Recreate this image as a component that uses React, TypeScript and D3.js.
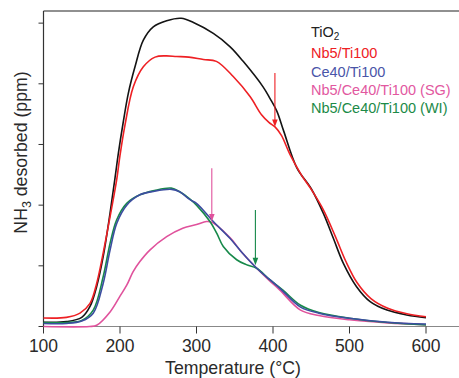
import React from "react";
import * as d3 from "d3";

const W = 459;
const H = 378;

const xTicks = [100, 200, 300, 400, 500, 600];
const yTicks = [0, 1, 2, 3, 4, 5];

const seriesNames = ["TiO2", "Nb5/Ti100", "Ce40/Ti100", "Nb5/Ce40/Ti100 (SG)", "Nb5/Ce40/Ti100 (WI)"];
const seriesColors = ["#141414", "#ee2024", "#3c4da0", "#e0529c", "#17894a"];
const legendColors = ["#222222", "#ee2024", "#4a55a8", "#e2589f", "#1c8a48"];

const tTiO2 = [100, 130, 150, 160.8, 169.5, 178, 187, 193.5, 197.8, 204, 211, 219.6, 230.5, 243.5, 261, 280, 296, 322, 344, 361, 387, 396, 405, 414, 431, 450, 466, 479, 492, 509, 527, 549, 575, 600];
const vTiO2 = [0.07, 0.08, 0.15, 0.33, 0.66, 1.15, 1.87, 2.45, 2.85, 3.35, 3.85, 4.28, 4.72, 4.94, 5.04, 5.08, 5.01, 4.83, 4.61, 4.37, 3.95, 3.76, 3.55, 3.22, 2.62, 2.27, 1.86, 1.45, 1.04, 0.66, 0.41, 0.27, 0.19, 0.145];

const tNb = [100, 130, 147.7, 160.8, 169.5, 178, 187, 195.7, 200, 206.5, 217.4, 230.5, 245.8, 260, 274, 290, 309, 326, 348, 370, 385, 395, 402.6, 411, 422, 437, 450, 466, 482, 495, 510, 528, 550, 575, 600];
const vNb = [0.14, 0.15, 0.22, 0.38, 0.71, 1.21, 1.81, 2.42, 2.82, 3.32, 3.95, 4.28, 4.44, 4.46, 4.45, 4.44, 4.4, 4.37, 4.12, 3.79, 3.49, 3.36, 3.29, 3.15, 2.84, 2.5, 2.26, 1.92, 1.47, 1.08, 0.72, 0.46, 0.3, 0.21, 0.16];

const tCe = [100, 130, 150, 165, 178, 187, 195.7, 208.8, 226, 245, 267.6, 278, 291.5, 300, 322, 344, 360, 378.7, 395, 409, 436, 460, 500, 550, 600];
const vCe = [0.05, 0.05, 0.09, 0.22, 0.71, 1.26, 1.7, 2.0, 2.17, 2.23, 2.26, 2.22, 2.09, 2.03, 1.73, 1.45, 1.21, 0.96, 0.78, 0.63, 0.32, 0.22, 0.135, 0.07, 0.04];

const tSG = [100, 160, 169.5, 187, 200, 208.8, 217, 226, 239, 261, 282, 300, 313, 320, 326, 344, 360, 378.7, 395, 409, 436, 460, 500, 550, 600];
const vSG = [0.0, 0.0, 0.02, 0.24, 0.5, 0.68, 0.9, 1.07, 1.26, 1.48, 1.62, 1.68, 1.73, 1.72, 1.67, 1.46, 1.21, 0.96, 0.76, 0.6, 0.27, 0.18, 0.11, 0.06, 0.03];

const tWI = [100, 130, 150, 165, 178, 187, 195.7, 208.8, 226, 245, 267, 278, 291.5, 300, 317.6, 326.4, 335, 352.5, 365, 378.7, 395, 413, 436, 460, 500, 550, 600];
const vWI = [0.065, 0.065, 0.1, 0.27, 0.82, 1.37, 1.76, 2.03, 2.17, 2.24, 2.28, 2.22, 2.1, 2.0, 1.73, 1.54, 1.32, 1.1, 1.02, 0.96, 0.78, 0.6, 0.35, 0.23, 0.135, 0.065, 0.025];

const seriesT = [tTiO2, tNb, tCe, tSG, tWI];
const seriesV = [vTiO2, vNb, vCe, vSG, vWI];
const drawOrder = [0, 1, 3, 4, 2];

// arrows: series index, temperature, start value, tip value
const arrowSeries = [1, 3, 4];
const arrowTemps = [402.5, 320, 377];
const arrowTops = [4.18, 2.61, 1.92];
const arrowTips = [3.29, 1.73, 1.01];

const FONT = "'Liberation Sans', Arial, Helvetica, sans-serif";

export default function App() {
  const x = d3.scaleLinear().domain([100, 600]).range([43.5, 426]);
  const y = d3.scaleLinear().domain([0, 5.2]).range([326.5, 11]);
  const left = 43.5;
  const bottom = 326.5;

  const line = d3
    .line<[number, number]>()
    .x((d) => x(d[0]))
    .y((d) => y(d[1]))
    .curve(d3.curveCatmullRom.alpha(0.5));

  const legendY = [37, 57.5, 76.5, 95, 113];

  return (
    <svg
      width={W}
      height={H}
      style={{ position: "absolute", left: 0, top: 0, background: "#fff" }}
      fontFamily={FONT}
    >
      {/* frame */}
      <line x1={left} x2={W} y1={11} y2={11} stroke="#222" strokeWidth={1.2} />
      <line x1={left} x2={left} y1={11} y2={bottom} stroke="#333" strokeWidth={1.2} />
      <line x1={left} x2={W} y1={bottom} y2={bottom} stroke="#888" strokeWidth={1.2} />

      {yTicks.map((t) => (
        <line key={"yt" + t} x1={left - 5} x2={left} y1={y(t)} y2={y(t)} stroke="#333" strokeWidth={1} />
      ))}
      {xTicks.map((t) => (
        <g key={"xt" + t}>
          <line x1={x(t)} x2={x(t)} y1={bottom} y2={bottom + 7} stroke="#333" strokeWidth={1} />
          <text x={x(t)} y={351.5} textAnchor="middle" fontSize={17.5} fill="#2a2a2a">
            {t}
          </text>
        </g>
      ))}

      <text x={233} y={374} textAnchor="middle" fontSize={17.7} fill="#2a2a2a">
        Temperature (°C)
      </text>
      <text
        transform={`translate(27,152.5) rotate(-90)`}
        textAnchor="middle"
        fontSize={17.7}
        fill="#2a2a2a"
      >
        NH
        <tspan fontSize={12.5} dy={4}>3</tspan>
        <tspan dy={-4}> desorbed (ppm)</tspan>
      </text>

      {drawOrder.map((i) => {
        const pts: [number, number][] = seriesT[i].map((t, k) => [t, seriesV[i][k]]);
        return (
          <path
            key={"s" + i}
            d={line(pts) || ""}
            fill="none"
            stroke={seriesColors[i]}
            strokeWidth={1.6}
            strokeLinejoin="round"
          />
        );
      })}

      {arrowSeries.map((si, k) => {
        const ax = x(arrowTemps[k]);
        const y0 = y(arrowTops[k]);
        const y1 = y(arrowTips[k]);
        const c = seriesColors[si];
        return (
          <g key={"a" + k}>
            <line x1={ax} x2={ax} y1={y0} y2={y1 - 5} stroke={c} strokeWidth={1.1} />
            <path d={`M${ax - 2.8},${y1 - 7.5} L${ax + 2.8},${y1 - 7.5} L${ax},${y1} Z`} fill={c} />
          </g>
        );
      })}

      {seriesNames.map((n, i) => (
        <text key={"l" + i} x={311} y={legendY[i]} fontSize={14.5} fill={legendColors[i]}>
          {i === 0 ? (
            <>
              TiO<tspan fontSize={10} dy={3}>2</tspan>
            </>
          ) : (
            n
          )}
        </text>
      ))}
    </svg>
  );
}
